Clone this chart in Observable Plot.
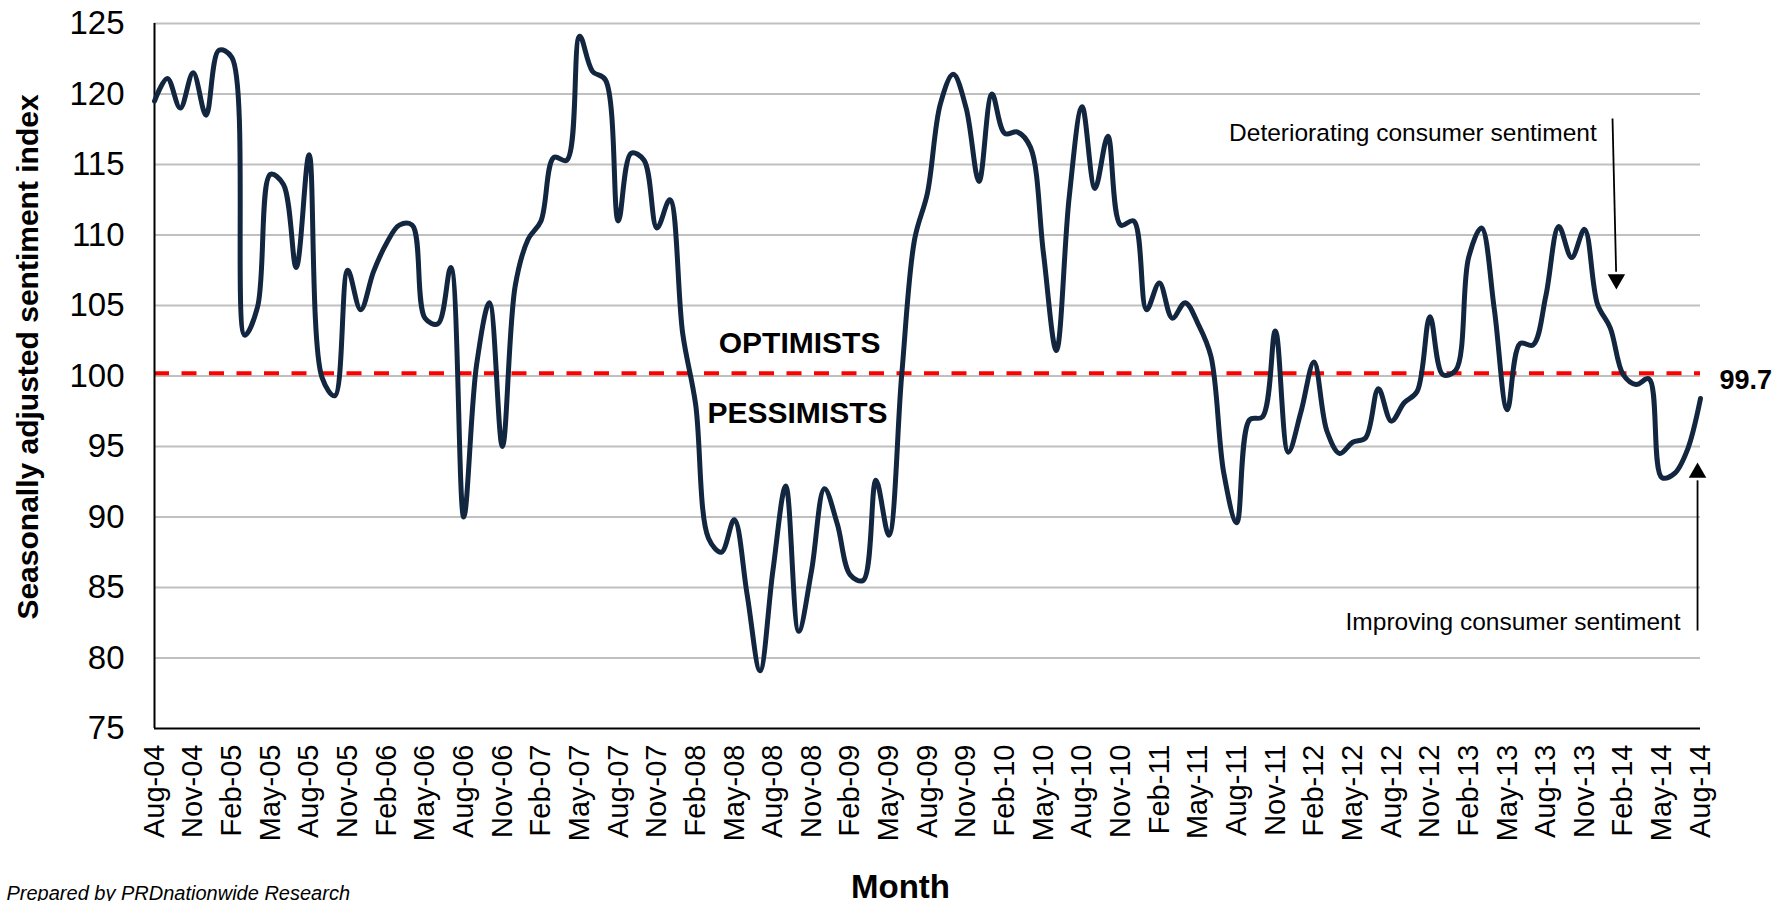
<!DOCTYPE html>
<html>
<head>
<meta charset="utf-8">
<script src="https://cdn.jsdelivr.net/npm/d3@7"></script>
<script src="https://cdn.jsdelivr.net/npm/@observablehq/plot@0.6"></script>
<style>
  html, body { margin: 0; padding: 0; background: #ffffff; }
  #chart svg { display: block; }
</style>
</head>
<body>
<div id="chart"></div>
<script>
// Monthly seasonally adjusted sentiment index, Aug-04 .. Aug-14 (121 months)
const sentimentValues = [
  119.5, 121.1, 119.0, 121.5, 118.5, 123.1, 122.6, 102.9, 104.9, 114.3,
  113.6, 107.7, 115.7, 99.9, 98.6, 107.5, 104.7, 107.4, 109.4, 110.7,
  110.7, 104.1, 103.7, 107.7, 90.0, 100.8, 105.2, 95.0, 106.4, 109.7,
  111.0, 115.5, 115.3, 124.1, 121.6, 121.0, 111.0, 115.8, 115.3, 110.5,
  112.5, 103.0, 98.0, 88.5, 87.5, 89.8, 84.5, 79.1, 86.2, 92.2,
  81.9, 86.2, 92.0, 89.5, 85.9, 85.5, 92.6, 88.7, 100.1, 109.7,
  113.0, 119.3, 121.4, 119.0, 113.8, 120.0, 117.2, 117.3, 116.2, 108.7,
  101.8, 112.7, 119.1, 113.3, 117.0, 110.7, 111.0, 104.7, 106.6, 104.1,
  105.2, 103.7, 101.4, 93.1, 89.6, 96.9, 97.1, 103.2, 94.6, 97.5,
  101.0, 96.1, 94.5, 95.3, 95.6, 99.1, 96.8, 98.1, 98.9, 104.2,
  100.1, 100.4, 108.4, 110.5, 104.7, 97.6, 102.3, 102.2, 105.7, 110.6,
  108.4, 110.4, 105.1, 103.4, 100.1, 99.4, 99.8, 92.8, 93.1, 94.8,
  98.4
];

// Category tick labels (every third month)
const tickLabels = [
  "Aug-04", "Nov-04", "Feb-05", "May-05", "Aug-05", "Nov-05", "Feb-06", "May-06",
  "Aug-06", "Nov-06", "Feb-07", "May-07", "Aug-07", "Nov-07", "Feb-08", "May-08",
  "Aug-08", "Nov-08", "Feb-09", "May-09", "Aug-09", "Nov-09", "Feb-10", "May-10",
  "Aug-10", "Nov-10", "Feb-11", "May-11", "Aug-11", "Nov-11", "Feb-12", "May-12",
  "Aug-12", "Nov-12", "Feb-13", "May-13", "Aug-13", "Nov-13", "Feb-14", "May-14",
  "Aug-14"
];

const yTicks = [75, 80, 85, 90, 95, 100, 105, 110, 115, 120, 125];
const thresholdValue = [100.2];
const thresholdLabel = ["99.7"];

const yTitle = "Seasonally adjusted sentiment index";
const xTitle = "Month";
const sourceNote = "Prepared by PRDnationwide Research";

// Annotation anchors (in data units: month index, index value)
const zoneLabels = [
  {text: "OPTIMISTS", month: 50.07, value: 102.34},
  {text: "PESSIMISTS", month: 49.91, value: 97.36}
];
const arrowNotes = [
  {text: "Deteriorating consumer sentiment", month: 111.95, value: 117.2},
  {text: "Improving consumer sentiment", month: 118.45, value: 82.54}
];
const arrows = [
  {x1: 113.17, y1: 118.26, x2: 113.45, y2: 107.4, hx: 113.47, hy: 106.85, dir: 180},
  {x1: 119.77, y1: 81.95, x2: 119.77, y2: 92.6, hx: 119.77, hy: 93.15, dir: 0}
];
const endLabel = [{text: thresholdLabel[0], month: 121.48, value: 99.68}];

const data = sentimentValues.map((v, i) => ({month: i, value: v}));
const tickIdx = tickLabels.map((_, k) => k * 3);
const font = "'Liberation Sans', Arial, Helvetica, sans-serif";

const chart = Plot.plot({
  width: 1789,
  height: 901,
  marginLeft: 154,
  marginRight: 89,
  marginTop: 23,
  marginBottom: 173,
  style: {fontFamily: font, background: "#ffffff", color: "#000000", overflow: "visible"},
  x: {type: "linear", domain: [0, 120]},
  y: {type: "linear", domain: [75, 125]},
  marks: [
    Plot.gridY(yTicks.filter(t => t > 75), {stroke: "#c0c0c0", strokeOpacity: 1, strokeWidth: 2}),
    Plot.ruleY(thresholdValue, {stroke: "#ff0000", strokeWidth: 4, strokeDasharray: "15 12.5"}),
    Plot.ruleX([0], {stroke: "#000000", strokeWidth: 2}),
    Plot.ruleY([75], {stroke: "#000000", strokeWidth: 2}),
    Plot.axisY({ticks: yTicks, tickSize: 0, tickPadding: 30, fontSize: 33, label: null, fill: "#000"}),
    Plot.axisX({
      ticks: tickIdx,
      tickFormat: d => tickLabels[Math.round(d / 3)],
      tickRotate: -90,
      tickSize: 0,
      tickPadding: 16,
      fontSize: 29,
      label: null,
      fill: "#000"
    }),
    Plot.line(data, {
      x: "month", y: "value", curve: "catmull-rom",
      stroke: "#12263f", strokeWidth: 5, strokeLinejoin: "round", strokeLinecap: "round"
    }),
    Plot.text(zoneLabels, {x: "month", y: "value", text: "text", fontSize: 30, fontWeight: "bold", fill: "#000"}),
    Plot.text(arrowNotes, {x: "month", y: "value", text: "text", fontSize: 24.5, textAnchor: "end", fill: "#000"}),
    Plot.link(arrows, {x1: "x1", y1: "y1", x2: "x2", y2: "y2", stroke: "#000", strokeWidth: 1.8}),
    Plot.dot(arrows, {x: "hx", y: "hy", symbol: "triangle", rotate: "dir", r: 6.5, fill: "#000", stroke: "none"}),
    Plot.text(endLabel, {x: "month", y: "value", text: "text", fontSize: 27, fontWeight: "bold", textAnchor: "start", fill: "#000"}),
    Plot.text([yTitle], {frameAnchor: "left", textAnchor: "middle", rotate: -90, dx: -126, dy: -19, fontSize: 30, fontWeight: "bold", fill: "#000"}),
    Plot.text([xTitle], {frameAnchor: "bottom", textAnchor: "middle", dx: -27, dy: 169, fontSize: 33, fontWeight: "bold", fill: "#000"}),
    Plot.text([sourceNote], {frameAnchor: "bottom-left", textAnchor: "start", dx: -148, dy: 171, fontSize: 20, fontStyle: "italic", fill: "#000"})
  ]
});

document.getElementById("chart").appendChild(chart);
</script>
</body>
</html>
